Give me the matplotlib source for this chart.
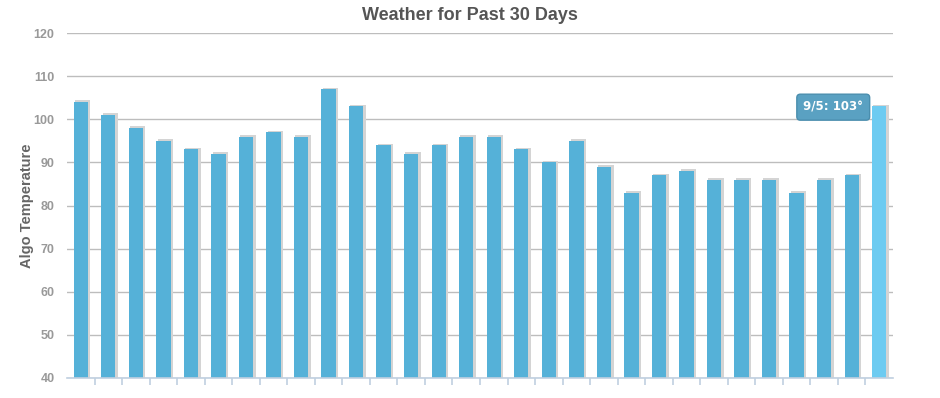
import matplotlib.pyplot as plt
import numpy as np

dates = ["8/7", "8/8", "8/9", "8/10", "8/11", "8/12", "8/13", "8/14", "8/15", "8/16",
         "8/17", "8/18", "8/19", "8/20", "8/21", "8/22", "8/23", "8/24", "8/25", "8/26",
         "8/27", "8/28", "8/29", "8/30", "8/31", "9/1", "9/2", "9/3", "9/4", "9/5"]
temps = [104, 101, 98, 95, 93, 92, 96, 97, 96, 107,
         103, 94, 92, 94, 96, 96, 93, 90, 95, 89,
         83, 87, 88, 86, 86, 86, 83, 86, 87, 103]

plt.rcParams['font.family'] = ['Liberation Sans', 'DejaVu Sans']

fig = plt.figure(figsize=(9.4, 3.98), dpi=100)
ax = fig.add_axes([67 / 940, 20 / 398, 826 / 940, 345 / 398])

x = np.arange(len(temps))
colors = ['#55b1d8'] * len(temps)
colors[-1] = '#6dcbf1'
base = 40

# shadow behind bars
ax.bar(x + 0.07, [t - base + 0.35 for t in temps], width=0.56, bottom=base,
       color='#d4d4d4', zorder=2)
ax.bar(x, [t - base for t in temps], width=0.52, bottom=base, color=colors, zorder=3)

ax.set_xlim(-0.5, len(temps) - 0.5)
ax.set_ylim(40, 120)
ax.set_yticks(range(40, 121, 10))
ax.set_xticks(np.arange(0.5, len(temps) - 0.5, 1))
ax.set_xticklabels([])
ax.grid(axis='y', color='#bdbdbd', linewidth=1, zorder=1)
ax.set_axisbelow(True)

for s in ['top', 'right', 'left']:
    ax.spines[s].set_visible(False)
ax.spines['bottom'].set_color('#c0d0e0')
ax.spines['bottom'].set_linewidth(1.2)
ax.spines['bottom'].set_zorder(4)
ax.tick_params(axis='x', length=5, color='#c0d0e0', width=1.2)
ax.tick_params(axis='y', length=0, pad=9, labelsize=9, labelcolor='#999999')
for lbl in ax.get_yticklabels():
    lbl.set_fontweight('bold')

ax.set_ylabel('Algo Temperature', fontsize=10.5, fontweight='bold', color='#666666')
ax.yaxis.set_label_coords(-33 / 826, 0.5)
fig.text(0.5, 0.962, 'Weather for Past 30 Days', ha='center', va='center',
         fontsize=13, fontweight='bold', color='#555555')

ax.annotate(f"{dates[-1]}: {temps[-1]}°", xy=(len(temps) - 2.67, 102.8),
            ha='center', va='center', fontsize=8.5, fontweight='bold', color='white',
            family=['DejaVu Sans'],
            bbox=dict(boxstyle='round,pad=0.55,rounding_size=0.3', fc='#5aa1c2',
                      ec='#4a8eae', lw=1), zorder=6)

fig.savefig('out.png', dpi=100)
